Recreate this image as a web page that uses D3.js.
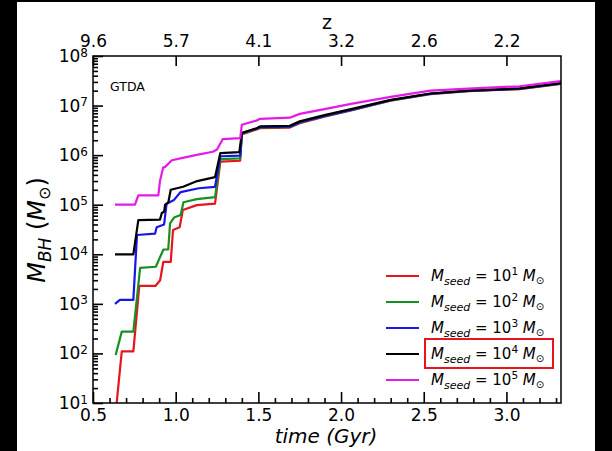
<!DOCTYPE html>
<html>
<head>
<meta charset="utf-8">
<script src="https://cdn.jsdelivr.net/npm/d3@7"></script>
<style>
body { margin: 0; background: #000; }
svg text { font-family: "DejaVu Sans", sans-serif; fill: #000; }
</style>
</head>
<body>
<div id="chart"></div>
<script>
// seed mass exponents and line colours
var seedExp = [1, 2, 3, 4, 5];
var seedColors = ["#e8141c", "#16901e", "#1616e8", "#000000", "#e619e6"];

// [time (Gyr), M_BH (Msun)]
var seed1 = [[0.643,10],[0.674,110],[0.744,110],[0.78,2300],[0.877,2300],[0.906,3000],[0.925,7000],[0.97,7000],[0.984,31000],[1.024,35000],[1.043,78000],[1.128,98000],[1.238,1.05e5],[1.27,7.4e5],[1.39,7.7e5],[1.40,2.6e6],[1.49,3.3e6],[1.51,3.5e6],[1.69,3.6e6],[1.75,4.4e6],[1.90,6.0e6],[2.06,8.0e6],[2.30,1.25e7],[2.54,1.7e7],[2.77,1.95e7],[3.08,2.15e7],[3.33,2.75e7]];
var seed2 = [[0.637,93],[0.674,275],[0.744,275],[0.785,5300],[0.88,5600],[0.90,8000],[0.926,12500],[0.955,12500],[0.966,42000],[0.99,55000],[1.03,62000],[1.047,1.12e5],[1.128,1.3e5],[1.238,1.42e5],[1.27,8.3e5],[1.39,8.6e5],[1.40,2.7e6],[1.49,3.4e6],[1.51,3.6e6],[1.69,3.7e6],[1.75,4.5e6],[1.90,6.1e6],[2.06,8.1e6],[2.30,1.27e7],[2.54,1.72e7],[2.77,1.97e7],[3.08,2.18e7],[3.33,2.78e7]];
var seed3 = [[0.633,1000],[0.663,1200],[0.744,1200],[0.766,24500],[0.875,26000],[0.885,35000],[0.93,40000],[0.945,1.05e5],[0.99,1.25e5],[1.03,1.8e5],[1.14,2.15e5],[1.238,2.3e5],[1.27,9.5e5],[1.39,9.8e5],[1.40,2.8e6],[1.49,3.45e6],[1.51,3.65e6],[1.69,3.75e6],[1.75,4.6e6],[1.90,6.2e6],[2.06,8.2e6],[2.30,1.28e7],[2.54,1.73e7],[2.77,1.98e7],[3.08,2.2e7],[3.33,2.8e7]];
var seed4 = [[0.633,1e4],[0.744,1e4],[0.774,49000],[0.905,50000],[0.916,68000],[0.93,72000],[0.936,1.0e5],[0.955,1.1e5],[0.97,2.0e5],[1.045,2.3e5],[1.13,3.0e5],[1.238,3.6e5],[1.27,1.1e6],[1.385,1.15e6],[1.40,2.8e6],[1.49,3.5e6],[1.51,3.8e6],[1.69,3.9e6],[1.75,4.8e6],[1.90,6.4e6],[2.06,8.5e6],[2.30,1.3e7],[2.54,1.75e7],[2.77,2.0e7],[3.08,2.22e7],[3.33,2.85e7]];
var seed5 = [[0.633,1e5],[0.754,1e5],[0.774,1.55e5],[0.895,1.55e5],[0.905,3e5],[0.924,5.6e5],[0.936,5.8e5],[0.977,7.9e5],[1.05,8.9e5],[1.12,1.0e6],[1.225,1.17e6],[1.25,1.3e6],[1.284,2.1e6],[1.39,2.2e6],[1.40,4.1e6],[1.49,5.0e6],[1.51,5.4e6],[1.69,5.7e6],[1.75,6.8e6],[1.90,8.5e6],[2.06,1.08e7],[2.30,1.5e7],[2.54,2.0e7],[2.77,2.2e7],[3.08,2.45e7],[3.33,3.1e7]];

// axis ticks
var timeTicks = [0.5, 1.0, 1.5, 2.0, 2.5, 3.0];
var timeMinor = [0.6,0.7,0.8,0.9,1.1,1.2,1.3,1.4,1.6,1.7,1.8,1.9,2.1,2.2,2.3,2.4,2.6,2.7,2.8,2.9,3.1,3.2,3.3];
var zTimes = [0.5, 1.0, 1.5, 2.0, 2.5, 3.0];
var zLabels = ["9.6", "5.7", "4.1", "3.2", "2.6", "2.2"];
var massExp = [1, 2, 3, 4, 5, 6, 7, 8];

var width = 612, height = 451
var pLeft = 93, pRight = 561, pTop = 56, pBottom = 403

var svg = d3.select("#chart").append("svg")
    .attr("width", width)
    .attr("height", height)

// white page with the black scan borders
svg.append("rect").attr("width", width).attr("height", height).attr("fill", "#fff")
svg.append("rect").attr("x", 0).attr("y", 0).attr("width", 17).attr("height", height).attr("fill", "#000")
svg.append("rect").attr("x", 595).attr("y", 0).attr("width", 17).attr("height", height).attr("fill", "#000")
svg.append("rect").attr("x", 0).attr("y", 0).attr("width", width).attr("height", 2).attr("fill", "#000")

var x = d3.scaleLinear().domain([0.5, 3.33]).range([pLeft, pRight])
var y = d3.scaleLog().domain([10, 1e8]).range([pBottom, pTop])

svg.append("clipPath").attr("id", "plotclip")
    .append("rect")
    .attr("x", pLeft).attr("y", pTop)
    .attr("width", pRight - pLeft).attr("height", pBottom - pTop)

var line = d3.line()
    .x(function(d) { return x(d[0]) })
    .y(function(d) { return y(d[1]) })

var series = [seed1, seed2, seed3, seed4, seed5]
svg.append("g").attr("clip-path", "url(#plotclip)")
    .selectAll("path")
    .data(series)
    .enter()
    .append("path")
    .attr("d", line)
    .attr("fill", "none")
    .attr("stroke", function(d, i) { return seedColors[i] })
    .attr("stroke-width", 2.2)
    .attr("stroke-linejoin", "round")

// bottom axis (ticks point inward)
var xAxis = svg.append("g")
    .attr("transform", "translate(0," + pBottom + ")")
    .call(d3.axisBottom(x).tickValues(timeTicks).tickFormat(d3.format(".1f"))
        .tickSizeInner(-11).tickSizeOuter(0).tickPadding(6))
var xMinor = svg.append("g")
    .attr("transform", "translate(0," + pBottom + ")")
    .call(d3.axisBottom(x).tickValues(timeMinor).tickFormat("")
        .tickSizeInner(-5).tickSizeOuter(0))

// top axis: redshift
var zAxis = svg.append("g")
    .attr("transform", "translate(0," + pTop + ")")
    .call(d3.axisTop(x).tickValues(zTimes).tickFormat(function(d, i) { return zLabels[i] })
        .tickSizeInner(-10).tickSizeOuter(0).tickPadding(9))

// left axis, log scale
var yAxis = svg.append("g")
    .attr("transform", "translate(" + pLeft + ",0)")
    .call(d3.axisLeft(y).tickValues(massExp.map(function(e) { return Math.pow(10, e) }))
        .tickFormat("").tickSizeInner(-10).tickSizeOuter(0).tickPadding(5))
var minorVals = []
massExp.slice(0, -1).forEach(function(e) {
    for (var k = 2; k < 10; k++) minorVals.push(k * Math.pow(10, e))
})
var yMinor = svg.append("g")
    .attr("transform", "translate(" + pLeft + ",0)")
    .call(d3.axisLeft(y).tickValues(minorVals).tickFormat("")
        .tickSizeInner(-5).tickSizeOuter(0))

yAxis.selectAll(".tick text").each(function(d) {
    var t = d3.select(this)
    t.append("tspan").text("10")
    t.append("tspan").attr("dy", "-0.45em").style("font-size", "12px").text(Math.round(Math.log10(d)))
})

;[xAxis, xMinor, zAxis, yAxis, yMinor].forEach(function(a) {
    a.select(".domain").remove()
    a.selectAll(".tick line").attr("stroke", "#000").attr("stroke-width", 1.6)
    a.selectAll(".tick text").style("font-size", "17px").attr("fill", "#000")
})

// frame
svg.append("rect")
    .attr("x", pLeft).attr("y", pTop)
    .attr("width", pRight - pLeft).attr("height", pBottom - pTop)
    .attr("fill", "none").attr("stroke", "#000").attr("stroke-width", 1.5)

// titles
svg.append("text").attr("x", 327).attr("y", 29).attr("text-anchor", "middle")
    .style("font-size", "19px").text("z")

svg.append("text").attr("x", 326).attr("y", 443).attr("text-anchor", "middle")
    .style("font-size", "20px").style("font-style", "italic").text("time (Gyr)")

svg.append("text").attr("x", 110).attr("y", 91)
    .style("font-size", "12.5px").text("GTDA")

var ylab = svg.append("text")
    .attr("transform", "translate(45,230) rotate(-90)")
    .attr("text-anchor", "middle")
    .style("font-size", "24px")
ylab.append("tspan").style("font-style", "italic").text("M")
ylab.append("tspan").style("font-style", "italic").style("font-size", "17px").attr("dy", 6).text("BH")
ylab.append("tspan").attr("dy", -6).text(" (")
ylab.append("tspan").style("font-style", "italic").text("M")
ylab.append("tspan").style("font-size", "16px").attr("dy", 5).text("⊙")
ylab.append("tspan").attr("dy", -5).text(")")

// legend
var legY = [276, 302, 328, 354, 380]
var leg = svg.append("g")
seedExp.forEach(function(e, i) {
    leg.append("line")
        .attr("x1", 386).attr("x2", 419)
        .attr("y1", legY[i]).attr("y2", legY[i])
        .attr("stroke", seedColors[i]).attr("stroke-width", 2)
    var t = leg.append("text").attr("x", 431).attr("y", legY[i] + 5).style("font-size", "15px")
    t.append("tspan").style("font-style", "italic").text("M")
    t.append("tspan").style("font-style", "italic").style("font-size", "11px").attr("dy", 4).text("seed")
    t.append("tspan").attr("dy", -4).text(" = 10")
    t.append("tspan").style("font-size", "10.5px").attr("dy", -6).text(e)
    t.append("tspan").style("font-style", "italic").attr("dy", 6).text(" M")
    t.append("tspan").style("font-size", "10px").attr("dy", 3).text("⊙")
})

// highlight box around the 10^4 entry
svg.append("rect")
    .attr("x", 425).attr("y", 339).attr("width", 128).attr("height", 29)
    .attr("fill", "none").attr("stroke", "#e8141c").attr("stroke-width", 2)
</script>
</body>
</html>
